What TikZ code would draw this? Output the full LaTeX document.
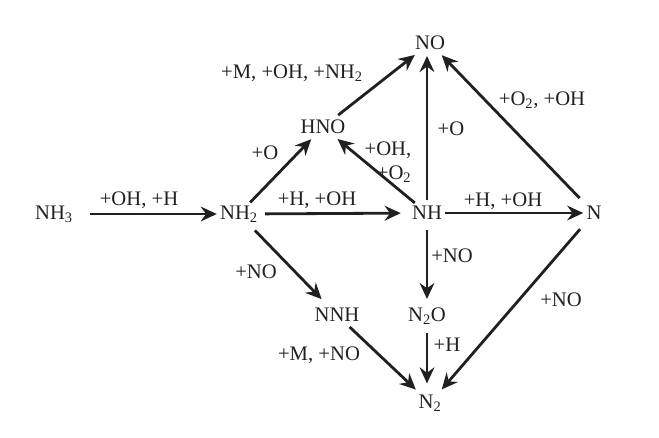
\documentclass[tikz,border=0pt]{standalone}
\usepackage{fontspec}
\setmainfont{Liberation Serif}
\usetikzlibrary{arrows.meta}
\definecolor{ink}{HTML}{231F20}
\newcommand{\chsub}[1]{\textsubscript{#1}}
\tikzset{
  sp/.style={inner sep=2.5pt, outer sep=0pt, text=ink, font=\fontsize{15.5}{18}\selectfont},
  lab/.style={inner sep=0pt, text=ink, font=\fontsize{15.5}{18}\selectfont, align=right},
  rx/.style={draw=ink, line width=2.1pt, -{Stealth[length=12pt,width=11pt,inset=4pt]}}
}
\begin{document}
\begin{tikzpicture}[x=0.75pt,y=-0.75pt]
\useasboundingbox (0,0) rectangle (659,437);
% species
\node[sp] (nh3) at (54,214) {NH\chsub{3}};
\node[sp] (nh2) at (239,214) {NH\chsub{2}};
\node[sp] (nh)  at (427,213) {NH};
\node[sp] (n)   at (594,213) {N};
\node[sp] (no)  at (430,43) {NO};
\node[sp] (hno) at (323,127) {HNO};
\node[sp] (nnh) at (337,315) {NNH};
\node[sp] (n2o) at (427,316) {N\chsub{2}O};
\node[sp] (n2)  at (430,403) {N\chsub{2}};
% reactions
\draw[rx, shorten <=10pt] (nh3) -- (nh2);
\draw[rx, shorten <=3pt, shorten >=6pt] (nh2) -- (nh);
\draw[rx] (nh) -- (n);
\draw[rx, shorten >=2pt] (nh2) -- (hno);
\draw[rx, shorten <=2pt, shorten >=2pt] (hno) -- (no);
\draw[rx, shorten >=2pt] (nh) -- (hno);
\draw[rx, shorten <=2pt, shorten >=2pt] (nh.north) -- (nh.north |- no.south);
\draw[rx, shorten <=5pt, shorten >=2pt] (n) -- (no);
\draw[rx, shorten <=5pt, shorten >=6pt] (nh2) -- (nnh);
\draw[rx, shorten <=5pt, shorten >=4pt] (nh.south) -- (nh.south |- n2o.north);
\draw[rx, shorten <=4pt, shorten >=6pt] (n2o.south) -- (n2o.south |- n2.north);
\draw[rx, shorten <=2pt, shorten >=2pt] (nnh) -- (n2);
\draw[rx, shorten <=6pt, shorten >=2pt] (n) -- (n2);
% labels
\node[lab] (l1) at (139,200) {+OH, +H};
\node[lab] (l2) at (317,200) {+H, +OH};
\node[lab] (l3) at (503,201) {+H, +OH};
\node[lab] (l4) at (265,153) {+O};
\node[lab] (l5) at (292,73) {+M, +OH, +NH\chsub{2}};
\node[lab] (l6) at (388,162) {+OH,\\+O\chsub{2}};
\node[lab] (l7) at (451,129) {+O};
\node[lab] (l8) at (542,100) {+O\chsub{2}, +OH};
\node[lab] (l9) at (256,272) {+NO};
\node[lab] (l10) at (452,256) {+NO};
\node[lab] (l11) at (447,345) {+H};
\node[lab] (l12) at (319,355) {+M, +NO};
\node[lab] (l13) at (561,300) {+NO};
\end{tikzpicture}
\end{document}
